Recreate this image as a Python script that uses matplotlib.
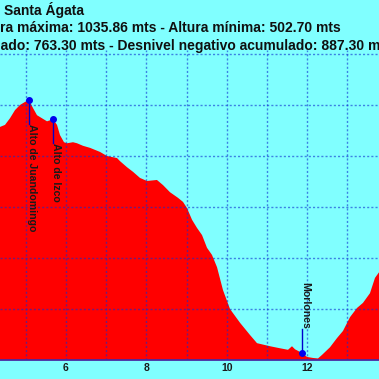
import matplotlib
matplotlib.use("Agg")
import matplotlib.pyplot as plt
from matplotlib.ticker import MultipleLocator

plt.rcParams['font.family'] = ['Liberation Sans', 'DejaVu Sans']

# ---- data ----
dist_km = [4.20, 4.361, 4.485, 4.609, 4.734, 4.858, 4.983, 5.082, 5.182, 5.281, 5.405,
           5.530, 5.679, 5.779, 5.853, 5.953, 6.027, 6.177, 6.276, 6.425, 6.599,
           6.848, 7.022, 7.271, 7.345, 7.520, 7.669, 7.843, 8.017, 8.265, 8.415,
           8.589, 8.788, 8.913, 9.012, 9.137, 9.261, 9.386, 9.510, 9.634, 9.759,
           9.908, 10.082, 10.331, 10.580, 10.754, 11.077, 11.326, 11.525, 11.624,
           11.699, 11.865, 11.998, 12.147, 12.271, 12.371, 12.570, 12.744, 12.893,
           13.067, 13.241, 13.390, 13.564, 13.689, 13.789, 13.95]
elev_m = [950, 957, 961, 974, 990, 1000, 1006, 1009, 994, 980, 974,
          968, 972, 961, 941, 927, 925, 927, 925, 920, 916,
          908, 900, 896, 890, 878, 869, 857, 851, 853, 843,
          829, 818, 810, 798, 775, 759, 745, 720, 706, 682,
          637, 600, 573, 549, 533, 527, 523, 520, 527,
          521, 514, 506, 504, 503, 510, 525, 543, 557,
          584, 602, 612, 631, 661, 672, 700]

wp_names = ["Alto de Juandomingo", "Alto de Izco", "Morlones"]
wp_km = [5.082, 5.679, 11.865]
wp_elev = [1009, 972, 514]
wp_label_below = [True, True, False]

x_tick_labels = ["6", "8", "10", "12"]

title_line1 = "Santa Ágata"
title_line2 = "Altura máxima: 1035.86 mts - Altura mínima: 502.70 mts"
title_line3 = "Desnivel positivo acumulado: 763.30 mts - Desnivel negativo acumulado: 887.30 mts"

# ---- figure ----
W = H = 379
fig = plt.figure(figsize=(W / 100, H / 100), dpi=100, facecolor='#80ffff')

ax_top_px, ax_bot_px = 50, 360
ax = fig.add_axes([0, (H - ax_bot_px) / H, 1, (ax_bot_px - ax_top_px) / H])
ax.set_facecolor('#80ffff')

px_per_km = 40.2
px_per_m = 0.51
xmin = 5 - 25.7 / px_per_km
xmax = xmin + W / px_per_km
ymin = 500
ymax = ymin + (ax_bot_px - ax_top_px) / px_per_m
ax.set_xlim(xmin, xmax)
ax.set_ylim(ymin, ymax)

ax.fill_between(dist_km, elev_m, ymin, color='#ff0000', lw=0, zorder=1)

ax.xaxis.set_major_locator(MultipleLocator(2))
ax.xaxis.set_minor_locator(MultipleLocator(1))
ax.yaxis.set_major_locator(MultipleLocator(100))
ax.grid(True, which='both', axis='x', color='#1030d0', alpha=0.6, ls=(0, (1.5, 1.5)), lw=1, zorder=2)
ax.grid(True, which='major', axis='y', color='#1030d0', alpha=0.6, ls=(0, (1.5, 1.5)), lw=1, zorder=2)
ax.set_axisbelow(False)

ax.set_xticks([6, 8, 10, 12])
ax.set_xticklabels(x_tick_labels)
ax.tick_params(axis='x', which='both', length=0, pad=2.0, labelsize=7.5,
               labelcolor='#1a1a1a')
for lbl in ax.get_xticklabels():
    lbl.set_fontweight('bold')
ax.tick_params(axis='y', which='both', length=0, labelleft=False)

for s in ['left', 'right', 'top']:
    ax.spines[s].set_visible(False)
ax.spines['bottom'].set_color('#4a2aa0')
ax.spines['bottom'].set_linewidth(1.3)
ax.spines['bottom'].set_zorder(3)

# waypoints
line_len_m = 23.5 / px_per_m
text_dx = 3.5 / px_per_km
for name, k, e, below in zip(wp_names, wp_km, wp_elev, wp_label_below):
    end = e - line_len_m if below else e + line_len_m
    ax.plot([k, k], [e, end], color='#0000cc', lw=1, zorder=4)
    ax.plot([k], [e], 'o', color='#0000ee', ms=4, zorder=5)
    ax.text(k + text_dx, end, name, rotation=-90, ha='center',
            va='top' if below else 'bottom', fontsize=7.6, fontweight='bold',
            color='#1a1a1a', zorder=6)

# titles (the chart is a crop: the titles run off the left/right edges)
tkw = dict(fontsize=10, fontweight='bold', color='#101010', va='center', ha='left')
fig.text(4 / W, 1 - 10 / H, title_line1, **tkw)
fig.text(-27 / W, 1 - 28 / H, title_line2, **tkw)
fig.text(-165.5 / W, 1 - 46 / H, title_line3, **tkw)

fig.savefig('out.png', dpi=100, facecolor=fig.get_facecolor())
